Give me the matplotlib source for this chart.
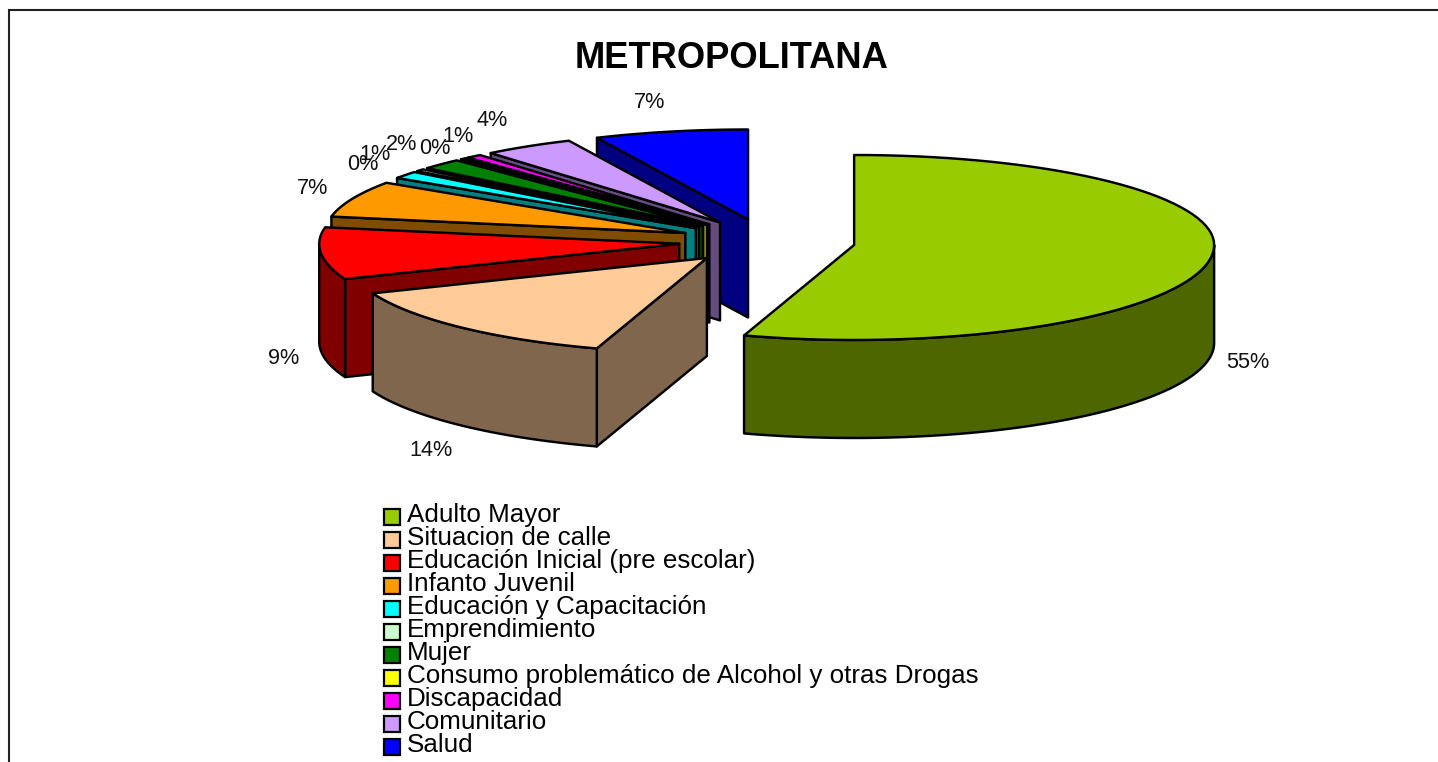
import numpy as np
import matplotlib
matplotlib.use('Agg')
import matplotlib.pyplot as plt
from matplotlib.patches import Polygon, Rectangle
from matplotlib.colors import to_rgb

plt.rcParams['font.family'] = ['Liberation Sans', 'DejaVu Sans']

# ===================== Data ==================

titulo = 'METROPOLITANA'
categorias = ['Adulto Mayor', 'Situacion de calle', 'Educación Inicial (pre escolar)',
              'Infanto Juvenil', 'Educación y Capacitación', 'Emprendimiento', 'Mujer',
              'Consumo problemático de Alcohol y otras Drogas', 'Discapacidad',
              'Comunitario', 'Salud']
valores = [55.0, 14.0, 9.0, 6.5, 1.3, 0.4, 1.9, 0.3, 0.7, 4.1, 6.9]
etiquetas = ['55%', '14%', '9%', '7%', '0%', '1%', '2%', '0%', '1%', '4%', '7%']
colores = ['#99CC00', '#FFCC99', '#FF0000', '#FF9900', '#00FFFF', '#CCFFCC',
           '#008000', '#FFFF00', '#FF00FF', '#CC99FF', '#0000FF']

# ===================== Layout (pixels) ==================

cx, cy = 767, 241.5
rx, ry = 360, 92
ry_atras, ry_frente = 90, 95  # algo de perspectiva
profundidad = 98
explosion = 0.245
lw = 1.75
pos_etiquetas = [(1248, 363), (431, 451), (284, 359), (313, 189), (363, 164), (375, 154),
                 (402, 144), (435, 148), (458, 137), (492, 121), (650, 103)]


def borde(ax_x, ax_y, t):
    # t en grados, sentido horario desde arriba
    r = np.radians(t)
    c = np.cos(r)
    return ax_x + rx * np.sin(r), ax_y - np.where(c > 0, ry_atras, ry_frente) * c


fig = plt.figure(figsize=(14.38, 7.62), dpi=100)
ax = fig.add_axes([0, 0, 1, 1])
ax.set_xlim(0, 1438)
ax.set_ylim(762, 0)
ax.axis('off')

# marco, solo izquierda y arriba
ax.plot([8.5, 8.5, 1438], [762, 9.5, 9.5], color='#222222', lw=1.5, solid_joinstyle='miter')

# ==== torta ====

fin = np.cumsum(valores) / np.sum(valores) * 360
inicio = np.r_[0, fin[:-1]]

# se dibuja de atras hacia adelante
for i in range(len(valores) - 1, -1, -1):
    t0, t1 = inicio[i], fin[i]
    medio = np.radians((t0 + t1) / 2)
    ax0 = cx + explosion * rx * np.sin(medio)
    ay0 = cy - explosion * ry * np.cos(medio)
    top = np.array(to_rgb(colores[i]))
    lado = tuple(top / 2)

    arco = np.linspace(t0, t1, 80)
    xa, ya = borde(ax0, ay0, arco)

    def pared(t):
        x, y = borde(ax0, ay0, t)
        p = [(ax0, ay0), (x, y), (x, y + profundidad), (ax0, ay0 + profundidad)]
        ax.add_patch(Polygon(p, closed=True, fc=lado, ec='black', lw=lw, joinstyle='round'))

    # paredes radiales que miran al frente
    if np.sin(np.radians(t0)) < 0:
        pared(t0)
    if np.sin(np.radians(t1)) > 1e-6:
        pared(t1)

    # borde exterior, solo la parte de adelante
    a, b = max(t0, 90), min(t1, 270)
    if b > a:
        xr, yr = borde(ax0, ay0, np.linspace(a, b, 80))
        p = np.r_[np.c_[xr, yr], np.c_[xr[::-1], yr[::-1] + profundidad]]
        ax.add_patch(Polygon(p, closed=True, fc=lado, ec='black', lw=lw, joinstyle='round'))

    # cara superior
    p = np.r_[[(ax0, ay0)], np.c_[xa, ya]]
    ax.add_patch(Polygon(p, closed=True, fc=top, ec='black', lw=lw, joinstyle='round'))

# ==== textos ====

ax.text(731.5, 58, titulo, fontsize=26.2, fontweight='bold', ha='center', va='center')

for (x, y), e in zip(pos_etiquetas, etiquetas):
    ax.text(x, y, e, fontsize=15.6, ha='center', va='center', color='#111111')

# ==== leyenda ====

for i, (c, col) in enumerate(zip(categorias, colores)):
    ax.add_patch(Rectangle((384, 509 + 23 * i), 15.5, 15.5, fc=col, ec='black', lw=1.6))
    ax.text(407, 515 + 23 * i, c, fontsize=18.75, ha='left', va='center', color='black')

fig.savefig('out.png', dpi=100)
